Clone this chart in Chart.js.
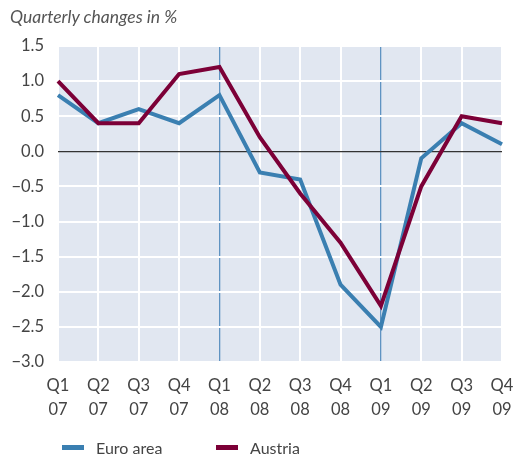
<!DOCTYPE html>
<html>
<head>
<meta charset="utf-8">
<script src="https://cdn.jsdelivr.net/npm/chart.js@4"></script>
<style>
  body { margin: 0; background: #fff; }
  #wrap { position: relative; width: 516px; height: 460px; font-family: Lato, "Open Sans", sans-serif; color: #444; }
  #titulo { position: absolute; left: 10px; top: 6px; font-size: 17.5px; font-style: italic; color: #555; }
  .ley { position: absolute; top: 438px; font-size: 16px; color: #444; }
  .ley span { display: inline-block; width: 22px; height: 5px; vertical-align: middle; margin-right: 12px; position: relative; top: -2px; }
</style>
</head>
<body>
<div id="wrap">
  <canvas id="grafica" width="516" height="460"></canvas>
  <div id="titulo">Quarterly changes in %</div>
  <div class="ley" style="left:62px"><span style="background:#3a7fb1"></span>Euro area</div>
  <div class="ley" style="left:216px"><span style="background:#7c0037"></span>Austria</div>
</div>
<script>
const trimestres = ['Q1', 'Q2', 'Q3', 'Q4', 'Q1', 'Q2', 'Q3', 'Q4', 'Q1', 'Q2', 'Q3', 'Q4'];
const anios = ['07', '07', '07', '07', '08', '08', '08', '08', '09', '09', '09', '09'];
const euroArea = [0.8, 0.4, 0.6, 0.4, 0.8, -0.3, -0.4, -1.9, -2.5, -0.1, 0.4, 0.1];
const austria = [1.0, 0.4, 0.4, 1.1, 1.2, 0.2, -0.6, -1.3, -2.2, -0.5, 0.5, 0.4];

const etiquetas = trimestres.map((q, i) => [q, anios[i]]);

// fondo del area del grafico
const fondoPlugin = {
    id: 'fondo',
    beforeDraw(chart) {
        const { ctx, chartArea: a } = chart;
        ctx.save();
        ctx.fillStyle = '#e1e7f1';
        ctx.fillRect(a.left, a.top, a.right - a.left, a.bottom - a.top);
        ctx.restore();
    }
};

const ctx = document.getElementById('grafica').getContext('2d');
new Chart(ctx, {
    type: 'line',
    data: {
        labels: etiquetas,
        datasets: [
            {
                label: 'Austria',
                data: austria,
                borderColor: '#7c0037',
                backgroundColor: '#7c0037',
                borderWidth: 4,
                pointRadius: 0,
                tension: 0
            },
            {
                label: 'Euro area',
                data: euroArea,
                borderColor: '#3a7fb1',
                backgroundColor: '#3a7fb1',
                borderWidth: 4,
                pointRadius: 0,
                tension: 0
            }
        ]
    },
    options: {
        responsive: false,
        animation: false,
        layout: { padding: { top: 46, left: 0, right: 14, bottom: 38 } },
        plugins: { legend: { display: false }, tooltip: { enabled: false } },
        scales: {
            x: {
                offset: false,
                border: { display: false },
                grid: {
                    drawTicks: false,
                    color: c => (c.index === 4 || c.index === 8) ? '#5f93c2' : '#ffffff',
                    lineWidth: c => (c.index === 4 || c.index === 8) ? 1.3 : 2
                },
                ticks: {
                    padding: 11,
                    maxRotation: 0,
                    autoSkip: false,
                    color: '#444',
                    font: { family: 'Lato', size: 16.5, lineHeight: 1.5 }
                },
                afterFit(scale) {
                    scale.height = 60;
                    scale.paddingLeft = 0;
                    scale.paddingRight = 0;
                }
            },
            y: {
                min: -3,
                max: 1.5,
                border: { display: false },
                grid: {
                    drawTicks: false,
                    color: c => c.tick.value === 0 ? '#333333' : '#ffffff',
                    lineWidth: c => c.tick.value === 0 ? 1.2 : 2
                },
                ticks: {
                    stepSize: 0.5,
                    padding: 14,
                    color: '#444',
                    font: { family: 'Lato', size: 16.5 },
                    callback: v => v.toFixed(1).replace('-', '\u2212')
                },
                afterFit(scale) { scale.width = 58; }
            }
        }
    },
    plugins: [fondoPlugin]
});
</script>
</body>
</html>
